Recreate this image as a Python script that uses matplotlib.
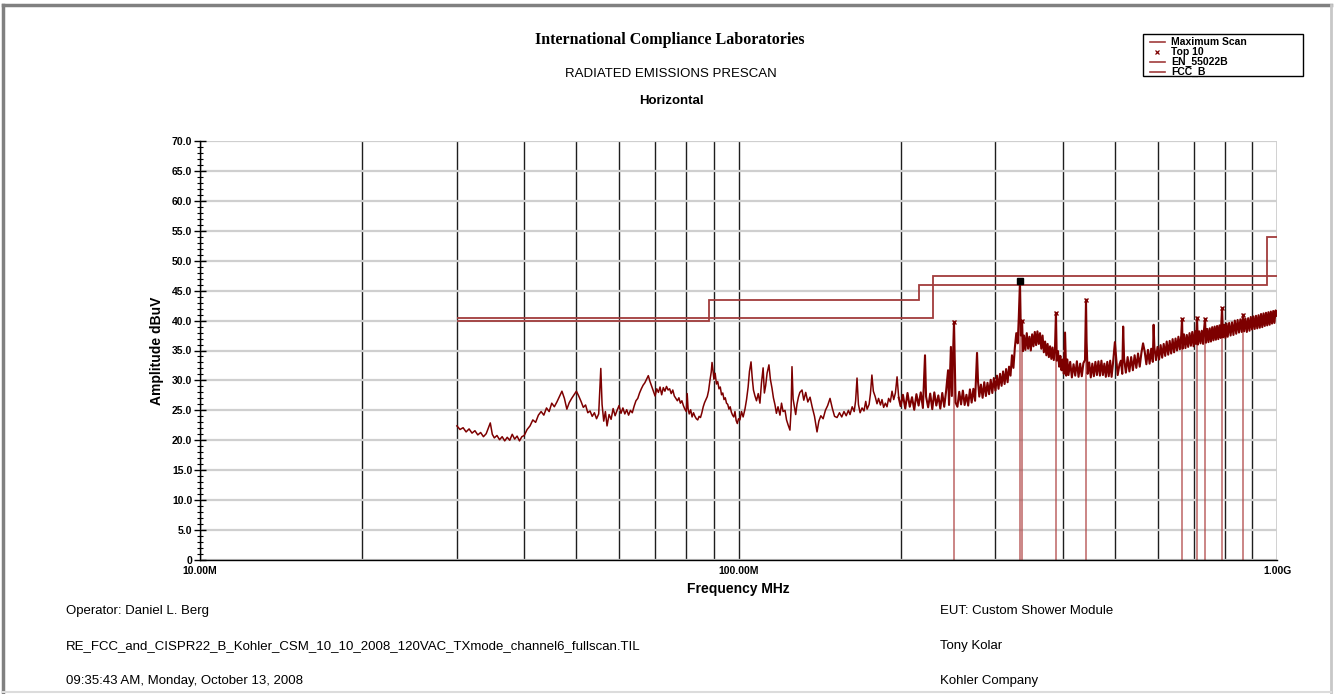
import matplotlib
matplotlib.use("Agg")
import matplotlib.pyplot as plt
from matplotlib.lines import Line2D
from matplotlib.patches import Rectangle
from matplotlib.ticker import FixedLocator, FuncFormatter, MultipleLocator

plt.rcParams['font.family'] = ['Liberation Sans', 'DejaVu Sans']

# limit lines, dBuV over frequency bands in MHz
en_edges = [30, 230, 1000]
en_levels = [40.5, 47.5]
fcc_edges = [30, 88, 216, 960, 1000]
fcc_levels = [40.0, 43.5, 46.0, 54.0]

# maximum scan trace, 30 - 200 MHz
scan_low_freq = [30.0, 30.4, 30.8, 31.2, 31.6, 32.0, 32.4, 32.8, 33.2, 33.6, 34.0, 34.3, 34.6, 34.9,
                 35.2, 35.6, 36.0, 36.4, 36.8, 37.2, 37.6, 38.0, 38.4, 38.8, 39.2, 39.6, 40.0, 40.5,
                 41.0, 41.5, 42.0, 42.5, 43.0, 43.5, 44.0, 44.5, 45.0, 45.5, 46.0, 46.5, 47.0, 47.5,
                 48.0, 48.5, 49.0, 49.5, 50.0, 50.5, 51.0, 51.5, 52.0, 52.5, 53.0, 53.5, 54.0, 54.5,
                 55.0, 55.5, 55.8, 56.2, 56.6, 57.0, 57.5, 58.0, 58.5, 59.0, 59.5, 60.0, 60.5, 61.0,
                 61.5, 62.0, 62.5, 63.0, 63.5, 64.0, 64.5, 65.0, 65.5, 66.0, 66.5, 67.0, 67.5, 68.0,
                 68.5, 69.0, 69.5, 70.0, 70.5, 71.0, 71.5, 72.0, 72.5, 73.0, 73.5, 74.0, 74.5, 75.0,
                 75.5, 76.0, 76.5, 77.0, 77.5, 78.0, 78.5, 79.0, 79.5, 80.0, 80.3, 80.6, 81.0, 81.5,
                 82.0, 82.5, 83.0, 83.5, 84.0, 84.5, 85.0, 85.5, 86.0, 86.5, 87.0, 87.5, 88.0, 88.5,
                 89.0, 89.3, 89.7, 90.0, 90.5, 91.0, 91.5, 92.0, 92.5, 93.0, 93.5, 94.0, 94.5, 95.0,
                 95.5, 96.0, 96.5, 97.0, 97.5, 98.0, 98.5, 99.0, 99.5, 100.0, 100.6, 101.3, 102.0,
                 102.8, 103.5, 104.2, 104.8, 105.5, 106.0, 106.6, 107.3, 108.0, 108.8, 109.6, 110.3,
                 111.1, 111.7, 112.3, 113.0, 113.9, 114.6, 115.4, 116.1, 116.9, 117.6, 118.4, 119.4,
                 120.2, 121.0, 122.0, 122.8, 123.6, 124.6, 125.2, 125.7, 126.3, 127.0, 127.7, 128.4,
                 129.2, 130.0, 131.2, 132.2, 133.3, 134.5, 135.8, 137.0, 138.4, 139.9, 141.0, 142.2,
                 143.6, 145.0, 146.4, 147.9, 149.3, 150.8, 152.4, 154.0, 155.5, 157.0, 158.5, 160.0,
                 161.1, 162.6, 164.0, 165.0, 166.0, 167.0, 168.2, 169.6, 171.0, 172.3, 173.3, 174.8,
                 175.8, 176.9, 178.0, 179.4, 180.8, 182.0, 183.5, 184.7, 186.0, 187.4, 188.7, 190.0,
                 191.4, 192.8, 194.2, 195.6, 197.0, 198.4]
scan_low_amp = [22.4, 21.8, 22.1, 21.4, 21.9, 21.2, 21.6, 20.9, 21.3, 20.6, 21.1, 22.0, 22.9, 21.0,
                20.4, 20.8, 20.1, 20.6, 19.9, 20.5, 20.0, 21.0, 20.2, 20.7, 19.9, 20.6, 20.8, 21.8,
                22.4, 23.4, 23.0, 24.2, 24.8, 24.2, 25.4, 24.8, 26.2, 25.6, 26.4, 27.3, 28.2, 27.0,
                25.2, 26.3, 27.0, 27.6, 28.2, 27.4, 26.5, 25.5, 25.9, 24.6, 24.9, 24.0, 24.6, 23.6,
                24.4, 32.0, 26.0, 23.2, 24.8, 22.4, 24.3, 23.5, 25.3, 24.1, 25.0, 25.8, 24.5, 25.4,
                24.4, 25.1, 24.2, 25.0, 24.6, 25.7, 26.6, 27.0, 27.9, 28.6, 29.2, 29.6, 30.2, 30.8,
                29.8, 29.0, 28.2, 27.4, 28.6, 28.0, 28.9, 27.6, 28.8, 28.2, 29.0, 28.4, 28.6, 27.8,
                28.4, 27.4, 27.0, 26.6, 27.1, 26.2, 26.6, 25.8, 25.2, 24.8, 27.8, 25.3, 24.4, 25.1,
                23.9, 24.6, 24.0, 23.6, 23.4, 24.0, 23.8, 24.6, 25.6, 26.3, 26.8, 27.3, 28.3, 30.0,
                31.4, 33.0, 31.6, 30.2, 31.2, 29.4, 29.8, 28.6, 28.9, 27.6, 27.9, 26.8, 27.1, 26.2,
                26.0, 25.2, 25.6, 24.7, 24.2, 23.9, 24.8, 23.3, 22.8, 23.6, 23.4, 24.8, 23.9,
                25.2, 26.8, 28.9, 31.5, 33.1, 30.6, 28.4, 27.4, 26.6, 27.8, 26.2, 29.5,
                32.1, 27.9, 29.1, 31.2, 32.6, 30.2, 28.7, 27.1, 25.9, 24.5, 25.6, 24.2,
                26.2, 24.8, 25.0, 23.4, 22.6, 21.7, 25.0, 32.3, 26.9, 25.6, 24.3, 26.0,
                27.2, 28.0, 28.4, 26.7, 28.0, 26.4, 27.2, 25.6, 24.0, 21.4, 23.2, 24.1,
                23.6, 25.0, 25.8, 27.0, 25.4, 24.0, 23.8, 24.6, 23.9, 24.8, 24.1, 25.0,
                24.3, 25.6, 24.8, 26.6, 30.4, 26.0, 24.6, 25.4, 24.9, 26.5, 25.2, 26.0,
                27.8, 30.9, 28.2, 27.3, 26.1, 27.0, 25.9, 26.8, 25.5, 26.2, 25.6, 27.0,
                26.4, 28.2, 26.8, 27.9, 30.6, 27.1]

# maximum scan trace, 200 MHz - 1 GHz
scan_high_freq = [200, 202, 204, 206, 208, 210, 212, 214, 216, 218, 220, 222, 223,
                  225, 227, 229, 231, 233, 235, 237, 239, 241, 243,
                  245, 246, 248, 249, 251.3,
                  253, 255, 257, 259, 261, 263, 265, 267, 269, 271, 273, 275, 277.3, 278.5,
                  280, 282, 284, 286, 288, 290, 292, 294, 296, 298, 300, 302, 304,
                  306, 308, 310, 312, 314, 316, 318, 320, 322, 324, 326, 328, 330,
                  331.5, 333.2, 334.5, 336.2, 337.5,
                  339, 341, 343, 345, 347, 349, 351, 353, 355, 357, 359, 361, 363,
                  365, 367, 369, 371, 373, 375, 377, 379, 381, 383, 385, 387, 388.6,
                  390, 392, 394, 396, 398, 400, 402, 404, 406, 408, 410,
                  413, 416, 419, 422, 425, 428, 431, 434, 437, 440, 441.9, 443,
                  445, 448, 451, 454, 457, 460, 463, 466, 469, 472, 475, 478, 481, 484, 487, 490,
                  493, 496,
                  500, 503, 506, 510, 513, 516, 518, 520, 524, 528, 532, 536, 540, 544, 548, 552,
                  556, 560, 564, 568, 572, 576, 580, 584, 588, 590, 592, 596, 600, 604, 608, 612,
                  616, 620, 624, 628, 632, 636, 640, 644, 648, 652, 656, 660, 664, 666.3, 668, 672,
                  676, 680, 684, 688, 692, 696, 700, 704, 707, 710.4, 713, 717, 721, 725, 729, 732,
                  735.1, 738, 742, 746, 750, 754, 758, 762, 766, 770, 774, 778, 782, 786, 790.6,
                  794, 798, 802, 806, 810, 815, 820, 825, 830, 835, 840, 845, 850, 855, 860, 864.8,
                  869, 874, 879, 884, 889, 894, 899, 904, 909, 914, 919, 924, 929, 934, 939, 944,
                  949, 954, 959, 964, 969, 974, 979, 984, 989, 994, 1000]
scan_high_amp = [25.7, 27.6, 25.3, 27.9, 25.6, 27.2, 25.1, 27.7, 25.8, 28.0, 25.4, 34.2, 27.3,
                 25.5, 27.8, 25.2, 28.0, 25.8, 27.5, 25.3, 27.9, 25.6, 28.3,
                 31.7, 25.9, 35.6, 27.4, 39.8,
                 26.3, 25.6, 28.1, 26.0, 28.3, 25.9, 27.6, 25.8, 28.5, 26.3, 28.6, 26.6, 34.6, 29.8,
                 27.3, 29.3, 27.1, 29.7, 27.4, 29.6, 27.7, 30.1, 27.9, 30.4, 28.3, 30.8, 28.6,
                 31.1, 29.1, 31.5, 29.4, 31.9, 29.7, 32.3, 30.8, 34.2, 32.1, 35.5, 37.9, 36.2,
                 40.5, 46.6, 37.5, 40.0, 34.9,
                 37.5, 35.1, 37.9, 35.3, 37.3, 35.0, 37.7, 35.7, 38.1, 35.9, 38.2, 36.1, 37.9,
                 35.3, 37.5, 34.7, 36.5, 34.2, 36.1, 33.9, 35.7, 33.6, 35.5, 33.4, 35.3, 41.3,
                 33.3, 34.9, 32.3, 34.1, 31.7, 33.5, 31.1, 38.0, 30.8, 33.5, 30.9,
                 33.1, 30.5, 32.7, 30.8, 33.2, 30.6, 32.8, 30.7, 32.9, 33.4, 43.5, 36.5,
                 31.1, 33.0, 30.5, 32.8, 30.7, 33.1, 30.9, 33.2, 30.8, 33.3, 30.9, 32.8, 30.6, 33.1,
                 30.7, 33.3, 30.6, 32.9,
                 36.4, 33.5, 30.9, 32.7, 33.3, 31.1, 39.0, 33.7, 31.3, 33.9, 31.5, 33.9, 31.7, 34.2,
                 32.1, 34.5, 32.3, 34.6, 36.2, 34.8, 32.7, 35.1, 32.8, 35.3, 33.1, 39.3, 35.5, 33.4,
                 35.6, 33.5, 35.9, 33.8, 36.1, 34.1, 36.5, 34.3, 36.6, 34.5, 36.9, 34.7, 37.0, 35.0,
                 37.3, 35.2, 37.5, 40.3, 35.3, 37.7, 35.4, 37.6, 35.6, 37.9, 35.8, 38.1, 35.7, 38.2,
                 36.1, 40.5, 36.0, 38.2, 36.2, 38.3, 36.1, 38.5, 40.3, 36.3, 38.6, 36.4, 38.7, 36.5,
                 38.9, 36.7, 39.0, 36.8, 39.1, 36.9, 39.2, 37.1, 42.1, 37.2, 39.3, 37.1, 39.5, 37.3,
                 39.6, 37.5, 39.7, 37.6, 40.0, 37.8, 40.1, 38.0, 40.2, 38.1, 41.0, 38.2, 40.3, 38.1,
                 40.4, 38.3, 40.6, 38.5, 40.7, 38.6, 40.8, 38.7, 40.9, 38.8, 41.1, 38.9, 41.2, 39.1,
                 41.3, 39.2, 41.4, 39.3, 41.5, 39.5, 41.6, 39.6, 41.7, 40.8]

# top 10 peaks; the first listed one is the highlighted marker
top_freq = [333.2, 251.3, 336.2, 388.6, 441.9, 666.3, 710.4, 735.1, 790.6, 864.8]
top_amp = [46.6, 39.8, 40.0, 41.3, 43.5, 40.3, 40.5, 40.3, 42.1, 41.0]

y_ticks = list(range(0, 71, 5))
x_ticks = [10, 100, 1000]
x_tick_labels = ['10.00M', '100.00M', '1.00G']

trace_color = '#7d0000'
limit_color = '#a13c3c'

W, H = 1339, 694
fig = plt.figure(figsize=(W / 100, H / 100), dpi=100)
fig.patch.set_facecolor('white')
ax = fig.add_axes([200 / W, 1 - 560 / H, 1077 / W, 419 / H])

ax.set_xscale('log')
ax.set_xlim(10, 1000)
ax.set_ylim(0, 70)

# grid: light horizontal every 5 dB, dark verticals at every 1-2-..-9 step
ax.yaxis.set_major_locator(FixedLocator(y_ticks))
ax.yaxis.set_minor_locator(MultipleLocator(1))
ax.grid(axis='y', which='major', color='#cfcfcf', lw=1.6, zorder=0)
ax.xaxis.set_major_locator(FixedLocator(x_ticks))
ax.xaxis.set_minor_locator(FixedLocator([m * d for d in (10, 100) for m in range(2, 10)]))
ax.grid(axis='x', which='both', color='#1e1e1e', lw=1.0, zorder=0)

ax.yaxis.set_major_formatter(FuncFormatter(lambda v, p: '0' if v == 0 else f'{v:.1f}'))
ax.set_xticklabels(x_tick_labels)

for s in ('top', 'right'):
    ax.spines[s].set_visible(False)
ax.spines['left'].set_linewidth(1.0)
ax.spines['bottom'].set_linewidth(1.0)

ax.tick_params(axis='y', which='major', direction='inout', length=9, width=1, pad=1,
               labelsize=7.5)
ax.tick_params(axis='y', which='minor', direction='inout', length=5, width=0.8)
ax.tick_params(axis='x', which='both', length=0, pad=4, labelsize=7.5)
for lbl in ax.get_xticklabels() + ax.get_yticklabels():
    lbl.set_fontweight('bold')

# limits
ax.stairs(fcc_levels, fcc_edges, baseline=None, color=limit_color, lw=1.3, zorder=3)
ax.stairs(en_levels, en_edges, baseline=None, color=limit_color, lw=1.3, zorder=3)

# peak drop lines
ax.vlines(top_freq, 0, top_amp, color='#b14a4a', lw=1.1, alpha=0.85, zorder=2)

# scan trace
ax.plot(scan_low_freq, scan_low_amp, color=trace_color, lw=1.1, zorder=4)
ax.plot(scan_low_freq[-1:] + scan_high_freq, scan_low_amp[-1:] + scan_high_amp,
        color=trace_color, lw=1.5, zorder=4)

ax.plot(top_freq[1:], top_amp[1:], 'x', color=trace_color, ms=3.5, mew=1.0, zorder=5)
ax.plot(top_freq[:1], top_amp[:1], 's', color='black', ms=5, zorder=6)

ax.set_ylabel('Amplitude dBuV', fontsize=10, fontweight='bold', labelpad=6)
ax.set_xlabel('Frequency MHz', fontsize=10, fontweight='bold', labelpad=5)

# headings
fig.text(670 / W, 1 - 40 / H, 'International Compliance Laboratories', ha='center', va='center',
         fontsize=11.5, fontweight='bold', family='Liberation Serif')
fig.text(671 / W, 1 - 74 / H, 'RADIATED EMISSIONS PRESCAN', ha='center', va='center', fontsize=9.5)
fig.text(671 / W, 1 - 101 / H, 'Horizontal', ha='center', va='center', fontsize=9.5,
         fontweight='bold')

# legend box
fig.add_artist(Rectangle((1143 / W, 1 - 76 / H), 160 / W, 42 / H, transform=fig.transFigure,
                         fill=False, edgecolor='black', lw=1.0, zorder=10))
legend_rows = [('Maximum Scan', '-'), ('Top 10', 'x'), ('EN_55022B', '-'), ('FCC_B', '-')]
for i, (name, kind) in enumerate(legend_rows):
    yy = 1 - (42 + 10 * i) / H
    if kind == '-':
        fig.add_artist(Line2D([1150 / W, 1165 / W], [yy, yy], transform=fig.transFigure,
                              color=limit_color, lw=1.2))
    else:
        fig.add_artist(Line2D([1157 / W], [yy], transform=fig.transFigure, marker='x',
                              color=trace_color, ms=3, mew=0.9, lw=0))
    fig.text(1171 / W, yy, name, va='center', ha='left', fontsize=7.5, fontweight='bold')

# footer
footer_left = ['Operator: Daniel L. Berg',
               'RE_FCC_and_CISPR22_B_Kohler_CSM_10_10_2008_120VAC_TXmode_channel6_fullscan.TIL',
               '09:35:43 AM, Monday, October 13, 2008']
footer_right = ['EUT: Custom Shower Module', 'Tony Kolar', 'Kohler Company']
for i, (a, b) in enumerate(zip(footer_left, footer_right)):
    yy = 1 - (611 + 35 * i) / H
    fig.text(66 / W, yy, a, va='center', ha='left', fontsize=9.5)
    fig.text(940 / W, yy, b, va='center', ha='left', fontsize=9.5)

# page frame
fig.add_artist(Line2D([3 / W, 1331 / W], [1 - 5 / H, 1 - 5 / H], transform=fig.transFigure,
                      color='#808080', lw=2.5))
fig.add_artist(Line2D([3 / W, 3 / W], [0, 1 - 5 / H], transform=fig.transFigure,
                      color='#808080', lw=2.5))
fig.add_artist(Line2D([1331 / W, 1331 / W], [0, 1 - 5 / H], transform=fig.transFigure,
                      color='#c8c8c8', lw=2.0))
fig.add_artist(Line2D([3 / W, 1331 / W], [2 / H, 2 / H], transform=fig.transFigure,
                      color='#dcdcdc', lw=1.5))

fig.savefig('out.png', dpi=100, facecolor='white')
